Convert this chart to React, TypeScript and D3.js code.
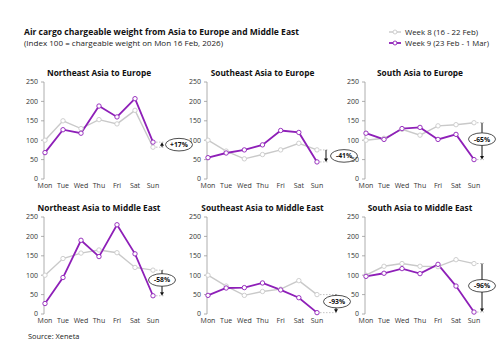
import React from "react";
import * as d3 from "d3";

const days = ["Mon", "Tue", "Wed", "Thu", "Fri", "Sat", "Sun"];
const yTicks = [0, 50, 100, 150, 200, 250];

const panelTitles = [
  "Northeast Asia to Europe",
  "Southeast Asia to Europe",
  "South Asia to Europe",
  "Northeast Asia to Middle East",
  "Southeast Asia to Middle East",
  "South Asia to Middle East",
];

const week8 = [
  [100, 150, 130, 153, 142, 177, 82],
  [100, 72, 52, 63, 75, 92, 75],
  [100, 105, 128, 113, 137, 140, 145],
  [100, 143, 157, 165, 158, 120, 113],
  [100, 72, 48, 58, 64, 86, 50],
  [100, 123, 130, 123, 122, 140, 130],
];

const week9 = [
  [68, 127, 118, 188, 160, 207, 95],
  [55, 67, 75, 88, 125, 120, 44],
  [118, 102, 130, 133, 102, 115, 50],
  [27, 94, 190, 148, 230, 155, 47],
  [48, 67, 68, 80, 62, 42, 3.5],
  [97, 105, 117, 104, 128, 72, 5],
];

const changeLabels = ["+17%", "-41%", "-65%", "-58%", "-93%", "-96%"];

const legendLabels = ["Week 8 (16 - 22 Feb)", "Week 9 (23 Feb - 1 Mar)"];

// layout
const colX = [[45, 153], [208, 317], [366, 474]];
const rowY = [[179, 82], [314, 217]];
const annot = [
  { arrowDx: 9, labelDx: 26, labelDy: 0 },
  { arrowDx: 9, labelDx: 27, labelDy: 0 },
  { arrowDx: 8, labelDx: 8, labelDy: -2 },
  { arrowDx: 9, labelDx: 9, labelDy: -3 },
  { arrowDx: 19, labelDx: 20, labelDy: -2 },
  { arrowDx: 8, labelDx: 8, labelDy: -2 },
];

const GREY = "#c9c9c9";
const PURPLE = "#8e1fb8";
const FONT = "'Open Sans', 'Noto Sans', sans-serif";

function Panel({ i }: { i: number }) {
  const col = i % 3;
  const row = Math.floor(i / 3);
  const x = d3.scalePoint<string>().domain(days).range(colX[col]);
  const y = d3.scaleLinear().domain([0, 250]).range(rowY[row]);
  const line = d3
    .line<number>()
    .x((_, k) => x(days[k]) as number)
    .y((v) => y(v));
  const axisX = colX[col][0] - 1;
  const sunX = x("Sun") as number;
  const g8 = week8[i][6];
  const g9 = week9[i][6];
  const a = annot[i];
  const ax = sunX + a.arrowDx;
  const y8 = y(g8);
  const y9 = y(g9);
  const up = y9 < y8;
  const headY = y9;
  const dir = up ? 1 : -1;
  const mid = (y8 + y9) / 2 + a.labelDy;
  const cx = sunX + a.labelDx;
  return (
    <g>
      <text
        x={(colX[col][0] + colX[col][1]) / 2}
        y={rowY[row][1] - 6}
        textAnchor="middle"
        fontSize={8.3}
        fontWeight={700}
        fill="#111"
      >
        {panelTitles[i]}
      </text>
      <line x1={axisX} x2={axisX} y1={y(250)} y2={y(0)} stroke="#9a9a9a" strokeWidth={0.8} />
      {yTicks.map((t) => (
        <g key={t}>
          <line x1={axisX - 3} x2={axisX} y1={y(t)} y2={y(t)} stroke="#9a9a9a" strokeWidth={0.8} />
          <text x={axisX - 6} y={y(t)} dy="0.35em" textAnchor="end" fontSize={7} fill="#333">
            {t}
          </text>
        </g>
      ))}
      {days.map((d) => (
        <text key={d} x={x(d)} y={y(0) + 9} textAnchor="middle" fontSize={7} fill="#333">
          {d}
        </text>
      ))}
      <line x1={sunX} x2={ax + 2} y1={y8} y2={y8} stroke="#aaa" strokeWidth={0.7} strokeDasharray="1.5,1.5" />
      <line x1={sunX} x2={ax + 2} y1={y9} y2={y9} stroke="#aaa" strokeWidth={0.7} strokeDasharray="1.5,1.5" />
      <path d={line(week8[i]) || ""} fill="none" stroke={GREY} strokeWidth={1.4} />
      <path d={line(week9[i]) || ""} fill="none" stroke={PURPLE} strokeWidth={1.8} />
      {week8[i].map((v, k) => (
        <circle key={"a" + k} cx={x(days[k])} cy={y(v)} r={2.2} fill="#fff" stroke={GREY} strokeWidth={0.9} />
      ))}
      {week9[i].map((v, k) => (
        <circle key={"b" + k} cx={x(days[k])} cy={y(v)} r={2.2} fill="#fff" stroke={PURPLE} strokeWidth={0.9} />
      ))}
      <line x1={ax} x2={ax} y1={y8} y2={headY + dir * 3} stroke="#111" strokeWidth={1} />
      <path
        d={`M${ax - 2},${headY + dir * 3.5} L${ax + 2},${headY + dir * 3.5} L${ax},${headY} Z`}
        fill="#111"
      />
      <ellipse cx={cx} cy={mid} rx={13.5} ry={6.3} fill="#fff" stroke="#222" strokeWidth={0.8} />
      <text x={cx} y={mid} dy="0.35em" textAnchor="middle" fontSize={6.8} fontWeight={700} fill="#111">
        {changeLabels[i]}
      </text>
    </g>
  );
}

export default function App() {
  return (
    <svg width={500} height={350} style={{ display: "block", position: "absolute", left: 0, top: 0, background: "#fff" }} fontFamily={FONT}>
      <rect width={500} height={350} fill="#fff" />
      <text x={24} y={35} fontSize={9.2} fontWeight={700} fill="#111" textLength={275} lengthAdjust="spacingAndGlyphs">
        Air cargo chargeable weight from Asia to Europe and Middle East
      </text>
      <text x={24} y={46} fontSize={7.4} fill="#222" textLength={199} lengthAdjust="spacingAndGlyphs">
        (Index 100 = chargeable weight on Mon 16 Feb, 2026)
      </text>
      {[GREY, PURPLE].map((c, k) => (
        <g key={k}>
          <line x1={389} x2={401} y1={32 + k * 11} y2={32 + k * 11} stroke={c} strokeWidth={k ? 1.8 : 1.4} />
          <circle cx={395} cy={32 + k * 11} r={2} fill="#fff" stroke={c} strokeWidth={0.9} />
          <text
            x={405}
            y={32 + k * 11}
            dy="0.35em"
            fontSize={7.4}
            fill="#222"
            textLength={k ? 84 : 73}
            lengthAdjust="spacingAndGlyphs"
          >
            {legendLabels[k]}
          </text>
        </g>
      ))}
      {panelTitles.map((_, i) => (
        <Panel key={i} i={i} />
      ))}
      <text x={28} y={339} fontSize={7.4} fill="#222">
        Source: Xeneta
      </text>
    </svg>
  );
}
